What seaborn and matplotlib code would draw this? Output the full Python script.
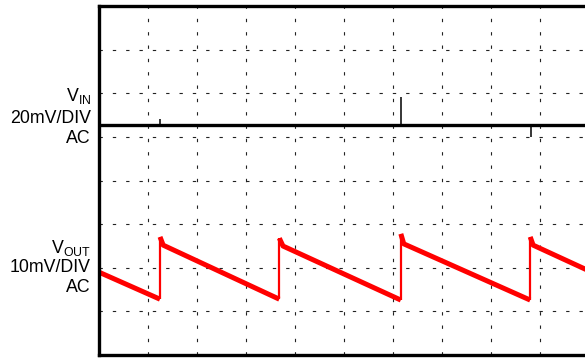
import matplotlib
matplotlib.use("Agg")
import matplotlib.pyplot as plt
import seaborn as sns
import pandas as pd
import numpy as np

sns.set_style("white")
plt.rcParams['font.family'] = ['Liberation Sans', 'DejaVu Sans']
plt.rcParams['mathtext.fontset'] = 'custom'
plt.rcParams['mathtext.rm'] = 'Liberation Sans'
plt.rcParams['mathtext.it'] = 'Liberation Sans'
plt.rcParams['text.color'] = 'black'

# ---- data (x in time divisions, y in screen divisions) ----
# VOUT sawtooth ramps: segment id, time, level
vout_seg = [0, 0, 1, 1, 1, 2, 2, 2, 3, 3, 3, 4, 4, 4]
vout_t   = [0.0, 1.245, 1.245, 1.31, 3.68, 3.68, 3.755, 6.16, 6.16, 6.22, 8.80, 8.80, 8.86, 10.0]
vout_v   = [1.90, 1.28, 2.71, 2.52, 1.28, 2.68, 2.50, 1.26, 2.78, 2.55, 1.26, 2.71, 2.52, 1.93]
# VOUT jumps (time, bottom, top)
jump_t   = [1.245, 3.68, 6.16, 8.80]
jump_lo  = [1.28, 1.28, 1.26, 1.26]
jump_hi  = [2.71, 2.68, 2.78, 2.71]

# VIN trace
vin_t    = [0.0, 10.0]
vin_v    = [5.275, 5.275]
spike_t  = [1.245, 6.17, 8.81]
spike_v  = [5.41, 5.92, 5.00]

# labels
vin_labels  = [r'V$_{\mathregular{IN}}$', '20mV/DIV', 'AC']
vout_labels = [r'V$_{\mathregular{OUT}}$', '10mV/DIV', 'AC']

W, H = 585, 358
fig = plt.figure(figsize=(W / 100, H / 100), dpi=100)
ax = fig.add_axes([99 / W, 3 / H, 490 / W, 348.7 / H])

df_out = pd.DataFrame({'seg': vout_seg, 't': vout_t, 'v': vout_v})
sns.lineplot(data=df_out, x='t', y='v', units='seg', estimator=None,
             color='#ff0000', lw=3.6, ax=ax, legend=False, sort=False,
             solid_capstyle='butt')
ax.vlines(jump_t, jump_lo, jump_hi, color='#ff0000', lw=1.6)

df_in = pd.DataFrame({'t': vin_t, 'v': vin_v})
sns.lineplot(data=df_in, x='t', y='v', color='black', lw=2.4, ax=ax,
             legend=False, estimator=None)
ax.vlines(spike_t, vin_v[0], spike_v, color='black', lw=1.1)

ax.set_xlim(0, 10)
ax.set_ylim(0, 8)
ax.set_xticks(range(11))
ax.set_yticks(range(9))
ax.set_xticklabels([])
ax.set_yticklabels([])
ax.tick_params(length=0)
ax.set_xlabel('')
ax.set_ylabel('')
ax.grid(True, color='#222222', lw=0.8, ls=(0, (3, 9)))
ax.set_axisbelow(True)
for side in ['left', 'top', 'bottom']:
    ax.spines[side].set_visible(True)
    ax.spines[side].set_color('black')
    ax.spines[side].set_linewidth(2.4)
ax.spines['right'].set_visible(False)

fs = 12.8
for lab, yb in zip(vin_labels, [101, 123, 143]):
    fig.text(91 / W, 1 - yb / H, lab, ha='right', va='baseline', fontsize=fs, color='black')
for lab, yb in zip(vout_labels, [253, 272, 292]):
    fig.text(91 / W, 1 - yb / H, lab, ha='right', va='baseline', fontsize=fs, color='black')

fig.savefig('out.png', dpi=100)
